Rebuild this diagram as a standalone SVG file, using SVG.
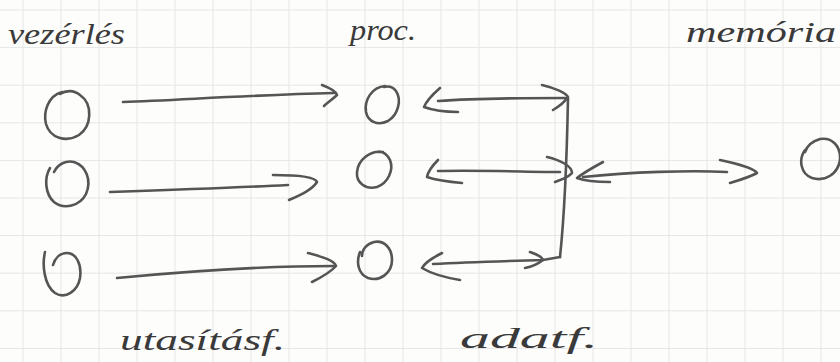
<svg xmlns="http://www.w3.org/2000/svg" width="840" height="362" viewBox="0 0 840 362">
<style>
.grid{stroke:#e6e6e6;stroke-width:1;fill:none}
.pen{stroke:#555555;stroke-width:2.6;fill:none;stroke-linecap:round;stroke-linejoin:round}
.lbl{font-family:"Liberation Serif","DejaVu Serif",serif;font-style:italic;font-size:30px;fill:#3a3a3a}
</style>
<rect width="840" height="362" fill="#fdfdfc"/>
<g id="grid" class="grid">
<path d="M0 10H840M0 47.6H840M0 85.2H840M0 122.8H840M0 160.4H840M0 198H840M0 235.6H840M0 273.2H840M0 310.8H840M0 348.4H840"/>
<path d="M23 0V362M61 0V362M99 0V362M137 0V362M175 0V362M213 0V362M251 0V362M289 0V362M327 0V362M365 0V362M403 0V362M441 0V362M479 0V362M517 0V362M555 0V362M593 0V362M631 0V362M669 0V362M707 0V362M745 0V362M783 0V362M821 0V362"/>
</g>
<g id="labels">
<text class="lbl" x="8" y="44" textLength="117" lengthAdjust="spacingAndGlyphs">vezérlés</text>
<text class="lbl" x="350" y="40" textLength="66" lengthAdjust="spacingAndGlyphs">proc.</text>
<text class="lbl" x="686" y="42" textLength="150" lengthAdjust="spacingAndGlyphs">memória</text>
<text class="lbl" x="120" y="350" textLength="165" lengthAdjust="spacingAndGlyphs">utasításf.</text>
<text class="lbl" x="460" y="348" textLength="138" lengthAdjust="spacingAndGlyphs">adatf.</text>
</g>
<g id="c1" class="pen"><path d="M62 92C48 96 43 112 46 124C50 138 66 143 79 135C92 126 93 104 80 95C74 90 66 90 60 94"/></g>
<g id="c2" class="pen"><path d="M50 168C44 178 45 194 54 202C64 210 80 206 86 194C92 180 86 166 74 162C66 160 58 164 54 172"/></g>
<g id="c3" class="pen"><path d="M45 252C42 265 44 285 55 293C66 300 78 290 80 278C82 264 76 253 67 253C60 253 55 258 53 265"/></g>
<g id="p1" class="pen"><path d="M385 86C372 87 364 100 366 112C368 122 378 126 388 121C398 115 402 100 396 91C393 87 388 86 384 87"/></g>
<g id="p2" class="pen"><path d="M383 152C370 150 358 160 357 172C356 183 366 190 377 187C388 183 394 170 390 160C387 154 382 151 377 152"/></g>
<g id="p3" class="pen"><path d="M360 252C356 262 358 274 368 278C380 282 392 273 392 260C392 248 384 240 374 242C366 244 362 250 362 256"/></g>
<g id="m1" class="pen"><path d="M805 150C798 160 801 174 812 178C825 182 838 174 840 160C841 146 832 137 820 139C813 141 807 146 805 152"/></g>
<g id="connectors" class="pen">
<path d="M123 102C180 100 250 95 334 93"/>
<path d="M322 85C330 88 336 91 337 95C333 99 328 102 324 106"/>
<path d="M110 192C170 190 230 188 288 185"/>
<path d="M273 175C290 175 315 176 317 182C312 190 300 195 289 200"/>
<path d="M117 278C180 272 260 266 334 266"/>
<path d="M308 253C322 257 334 260 336 266C330 273 320 278 312 282"/>
<path d="M568 98C567 150 565 210 560 257"/>
<path d="M438 101C480 98 530 98 567 98"/>
<path d="M440 88C432 95 426 102 424 107C432 110 446 112 458 112"/>
<path d="M542 85C555 88 566 93 568 97C564 103 558 107 553 110"/>
<path d="M438 171C480 170 530 172 560 172"/>
<path d="M438 160C432 166 428 172 427 177C436 180 450 182 462 183"/>
<path d="M547 157C560 160 572 166 572 173C568 178 560 180 555 182"/>
<path d="M433 264C470 262 510 261 543 260L560 257"/>
<path d="M442 253C432 258 424 264 422 268C432 274 448 278 460 280"/>
<path d="M530 252C536 254 542 257 543 260C538 264 530 267 525 268"/>
<path d="M583 177C630 172 690 170 727 172"/>
<path d="M603 162C592 168 582 174 577 178C585 181 598 182 610 182"/>
<path d="M720 160C738 164 754 168 757 173C750 177 740 180 730 183"/>
</g>
</svg>
